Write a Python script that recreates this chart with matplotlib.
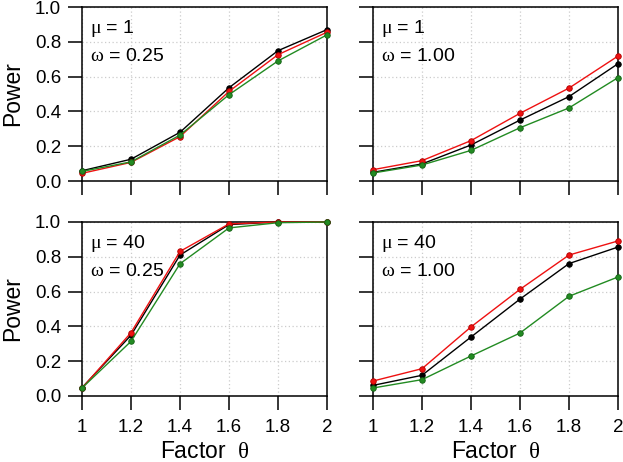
import matplotlib
matplotlib.use('Agg')
import matplotlib.pyplot as plt

plt.rcParams['font.family'] = ['Liberation Sans', 'DejaVu Sans']
plt.rcParams['mathtext.fontset'] = 'custom'
plt.rcParams['mathtext.rm'] = 'Liberation Serif'
plt.rcParams['mathtext.it'] = 'Liberation Serif'

factor = [1.0, 1.2, 1.4, 1.6, 1.8, 2.0]
xtick_labels = ['1', '1.2', '1.4', '1.6', '1.8', '2']
ytick_vals = [0.0, 0.2, 0.4, 0.6, 0.8, 1.0]
ytick_labels = ['0.0', '0.2', '0.4', '0.6', '0.8', '1.0']

# panel labels
mu_labels = ['1', '1', '40', '40']
omega_labels = ['0.25', '1.00', '0.25', '1.00']

# power values per panel: black, red, green
black_p = [
    [0.059, 0.125, 0.280, 0.536, 0.749, 0.870],
    [0.050, 0.098, 0.207, 0.350, 0.485, 0.674],
    [0.048, 0.349, 0.810, 0.985, 1.000, 1.000],
    [0.061, 0.119, 0.339, 0.557, 0.761, 0.856],
]
red_p = [
    [0.044, 0.107, 0.255, 0.515, 0.726, 0.855],
    [0.065, 0.117, 0.232, 0.389, 0.534, 0.718],
    [0.045, 0.364, 0.831, 0.989, 1.000, 1.000],
    [0.086, 0.157, 0.397, 0.613, 0.810, 0.891],
]
green_p = [
    [0.055, 0.110, 0.264, 0.496, 0.690, 0.840],
    [0.046, 0.092, 0.176, 0.306, 0.420, 0.594],
    [0.046, 0.314, 0.760, 0.966, 0.996, 1.000],
    [0.046, 0.094, 0.230, 0.362, 0.573, 0.684],
]

series = [
    (black_p, 'black', 'black'),
    (red_p, '#ee1111', '#b00000'),
    (green_p, '#228b22', '#146014'),
]

fig = plt.figure(figsize=(6.23, 4.62), dpi=100)
lefts = [82 / 623, 373 / 623]
bottoms = [1 - 181 / 462, 1 - 396 / 462]
w = 245 / 623
h = 174 / 462

for i in range(4):
    row, col = divmod(i, 2)
    ax = fig.add_axes([lefts[col], bottoms[row], w, h])
    for vals, c, ec in series:
        ax.plot(factor, vals[i], color=c, lw=1.0, marker='o', ms=4,
                mfc=c, mec=ec, mew=0.6, clip_on=False, zorder=3)
    ax.set_xlim(1, 2)
    ax.set_ylim(0, 1)
    ax.grid(True, color='#cccccc', linestyle=(0, (1, 2)), lw=0.9)
    ax.set_axisbelow(True)
    for sp in ax.spines.values():
        sp.set_linewidth(1.1)
    ax.tick_params(direction='out', length=10, width=1.1, labelsize=13.5)
    ax.tick_params(axis='y', pad=5)
    ax.tick_params(axis='x', pad=6.5)
    ax.set_xticks(factor)
    ax.set_yticks(ytick_vals)
    if row == 1:
        ax.set_xticklabels(xtick_labels)
        ax.set_xlabel(r'Factor  $\theta$', fontsize=16.5, labelpad=3)
    else:
        ax.set_xticklabels([])
    if col == 0:
        ax.set_yticklabels(ytick_labels)
        ax.set_ylabel('Power', fontsize=16.5, labelpad=8)
    else:
        ax.set_yticklabels([])
    ax.text(0.033, 0.875, r'$\mu$ = ' + mu_labels[i], transform=ax.transAxes,
            fontsize=14, va='center', ha='left')
    ax.text(0.033, 0.715, r'$\omega$ = ' + omega_labels[i], transform=ax.transAxes,
            fontsize=14, va='center', ha='left')

fig.savefig('out.png', dpi=100)
